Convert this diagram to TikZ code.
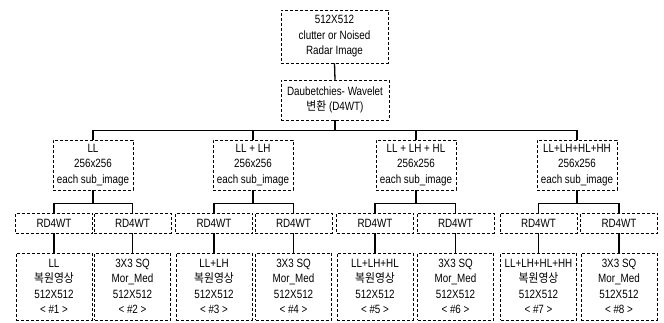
\documentclass[tikz,border=0pt]{standalone}
\usepackage{fontspec}
\setmainfont{Liberation Sans}[FakeStretch=0.82]
\newfontfamily\kr{Noto Sans CJK KR}[FakeStretch=0.9]
\usepackage{tikz}
\newcommand{\kor}[1]{{\kr #1}}

\begin{document}
\begin{tikzpicture}[x=1pt, y=-1pt]
    \tikzset{
        srcbox/.style={
            draw=black, densely dashed, line width=0.5pt,
            align=center, font=\fontsize{12}{15.5}\selectfont,
            inner sep=1pt
        },
        bandbox/.style={
            srcbox, minimum width=80pt, minimum height=50pt
        },
        rdbox/.style={
            srcbox, minimum width=77pt, minimum height=20pt
        },
        outbox/.style={
            srcbox, minimum width=76pt, minimum height=67pt
        },
        link/.style={draw=black, line width=1.3pt},
    }
    \useasboundingbox (0,0) rectangle (664,322);

    % ==== Input and transform ====
    \node[srcbox, minimum width=107pt, minimum height=53pt] (inp) at (334.5,36.5)
        {512X512\\clutter or Noised\\Radar Image};
    \node[srcbox, minimum width=108pt, minimum height=40pt] (dwt) at (335,100)
        {Daubetchies- Wavelet\\\kor{변환} (D4WT)};

    % ==== Sub-band selections ====
    \node[bandbox] (g1) at (93,165)  {LL\\256x256\\each sub\_image};
    \node[bandbox] (g2) at (253,165) {LL + LH\\256x256\\each sub\_image};
    \node[bandbox] (g3) at (416,165) {LL + LH + HL\\256x256\\each sub\_image};
    \node[bandbox] (g4) at (577,165) {LL+LH+HL+HH\\256x256\\each sub\_image};

    % ==== RD4WT row ====
    \node[rdbox] (r1) at (54,223)    {RD4WT};
    \node[rdbox] (r2) at (132.5,223) {RD4WT};
    \node[rdbox] (r3) at (214,223)   {RD4WT};
    \node[rdbox] (r4) at (293.5,223) {RD4WT};
    \node[rdbox] (r5) at (375,223)   {RD4WT};
    \node[rdbox] (r6) at (455.5,223) {RD4WT};
    \node[rdbox] (r7) at (538.5,223) {RD4WT};
    \node[rdbox] (r8) at (619,223)   {RD4WT};

    % ==== Output images ====
    \node[outbox] (o1) at (54,286.5)    {LL\\\kor{복원영상}\\512X512\\< \#1 >};
    \node[outbox] (o2) at (132.5,286.5) {3X3 SQ\\Mor\_Med\\512X512\\< \#2 >};
    \node[outbox] (o3) at (214,286.5)   {LL+LH\\\kor{복원영상}\\512X512\\< \#3 >};
    \node[outbox] (o4) at (293.5,286.5) {3X3 SQ\\Mor\_Med\\512X512\\< \#4 >};
    \node[outbox] (o5) at (375,286.5)   {LL+LH+HL\\\kor{복원영상}\\512X512\\< \#5 >};
    \node[outbox] (o6) at (455.5,286.5) {3X3 SQ\\Mor\_Med\\512X512\\< \#6 >};
    \node[outbox] (o7) at (538.5,286.5) {LL+LH+HL+HH\\\kor{복원영상}\\512X512\\< \#7 >};
    \node[outbox] (o8) at (619,286.5)   {3X3 SQ\\Mor\_Med\\512X512\\< \#8 >};

    % ==== Connectors ====
    \draw[link] (inp.south) -- (dwt.north);
    \draw[link] (dwt.south) -- ++(0,10) coordinate (bus);
    \draw[link] (g1.north) |- (bus) -| (g4.north);
    \draw[link] (g2.north) -- (g2.north |- bus);
    \draw[link] (g3.north) -- (g3.north |- bus);

    \draw[link] (g1.south) -- ++(0,13) coordinate (j1);
    \draw[link] (r1.north) |- (j1) -| (r2.north);
    \draw[link] (g2.south) -- ++(0,13) coordinate (j2);
    \draw[link] (r3.north) |- (j2) -| (r4.north);
    \draw[link] (g3.south) -- ++(0,13) coordinate (j3);
    \draw[link] (r5.north) |- (j3) -| (r6.north);
    \draw[link] (g4.south) -- ++(0,13) coordinate (j4);
    \draw[link] (r7.north) |- (j4) -| (r8.north);

    \draw[link] (r1.south) -- (o1.north);
    \draw[link] (r2.south) -- (o2.north);
    \draw[link] (r3.south) -- (o3.north);
    \draw[link] (r4.south) -- (o4.north);
    \draw[link] (r5.south) -- (o5.north);
    \draw[link] (r6.south) -- (o6.north);
    \draw[link] (r7.south) -- (o7.north);
    \draw[link] (r8.south) -- (o8.north);
\end{tikzpicture}
\end{document}
